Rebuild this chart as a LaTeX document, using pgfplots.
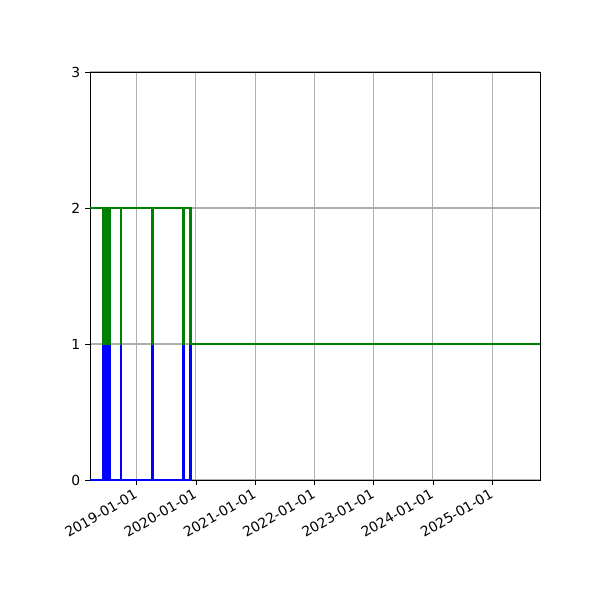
\documentclass[border=0pt]{standalone}
\usepackage{fontspec}
\setmainfont{DejaVu Sans}
\usepackage{pgfplots}
\pgfplotsset{compat=1.18}

% days counted from 2019-01-01
\begin{document}
\begin{tikzpicture}
\path[use as bounding box] (-67.5pt,-90pt) rectangle (382.5pt,360pt);
\begin{axis}[
    at={(0,0)}, anchor=south west,
    scale only axis,
    width=337.5pt, height=306pt,
    xmin=-288, xmax=2486,
    ymin=0, ymax=3,
    xtick={0,365,731,1096,1461,1826,2192},
    xticklabels={2019-01-01,2020-01-01,2021-01-01,2022-01-01,2023-01-01,2024-01-01,2025-01-01},
    ytick={0,1,2,3},
    grid=major,
    major grid style={color=black!31, line width=0.83pt},
    axis line style={line width=0.6pt},
    tick style={black, line width=0.6pt},
    tick align=outside,
    major tick length=3.6pt,
    xtick pos=bottom, ytick pos=left,
    tick label style={font=\fontsize{10.4}{12}\selectfont},
    xticklabel style={rotate=30, anchor=north east, inner sep=1pt, xshift=-2.5pt, yshift=0pt},
    yticklabel style={inner sep=1pt, xshift=-2.5pt},
    /pgf/number format/assume math mode=true,
]
\addplot[color=blue, line width=1.9pt, line join=miter] coordinates {
(-288,0)
(-208,0)(-208,1)(-207,1)(-207,0)
(-203,0)(-203,1)(-202,1)(-202,0)
(-198,0)(-198,1)(-197,1)(-197,0)
(-193,0)(-193,1)(-192,1)(-192,0)
(-188,0)(-188,1)(-187,1)(-187,0)
(-183,0)(-183,1)(-182,1)(-182,0)
(-178,0)(-178,1)(-177,1)(-177,0)
(-173,0)(-173,1)(-172,1)(-172,0)
(-168,0)(-168,1)(-167,1)(-167,0)
(-97,0)(-97,1)(-96,1)(-96,0)
(96,0)(96,1)(97,1)(97,0)
(290,0)(290,1)(291,1)(291,0)
(330,0)(330,1)(2486,1)
};
\addplot[color=black!50!green, line width=1.9pt, line join=miter] coordinates {
(-288,2)
(-208,2)(-208,1)(-207,1)(-207,2)
(-203,2)(-203,1)(-202,1)(-202,2)
(-198,2)(-198,1)(-197,1)(-197,2)
(-193,2)(-193,1)(-192,1)(-192,2)
(-188,2)(-188,1)(-187,1)(-187,2)
(-183,2)(-183,1)(-182,1)(-182,2)
(-178,2)(-178,1)(-177,1)(-177,2)
(-173,2)(-173,1)(-172,1)(-172,2)
(-168,2)(-168,1)(-167,1)(-167,2)
(-97,2)(-97,1)(-96,1)(-96,2)
(96,2)(96,1)(97,1)(97,2)
(290,2)(290,1)(291,1)(291,2)
(330,2)(330,1)(2486,1)
};
\end{axis}
\end{tikzpicture}
\end{document}
